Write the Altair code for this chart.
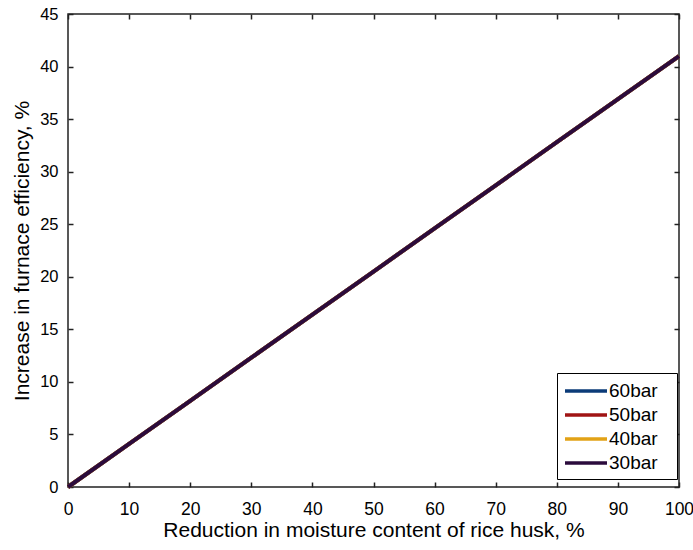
import altair as alt
import pandas as pd

# Data
reduction = [0, 10, 20, 30, 40, 50, 60, 70, 80, 90, 100]
eff_60bar = [0, 4.1, 8.2, 12.3, 16.4, 20.5, 24.6, 28.7, 32.8, 36.9, 41.0]
eff_50bar = [0, 4.1, 8.2, 12.3, 16.4, 20.5, 24.6, 28.7, 32.8, 36.9, 41.0]
eff_40bar = [0, 4.1, 8.2, 12.3, 16.4, 20.5, 24.6, 28.7, 32.8, 36.9, 41.0]
eff_30bar = [0, 4.1, 8.2, 12.3, 16.4, 20.5, 24.6, 28.7, 32.8, 36.9, 41.0]
series = ["60bar", "50bar", "40bar", "30bar"]
colors = ["#0b3b78", "#a01414", "#e2a216", "#2b0b3c"]
x_ticks = list(range(0, 101, 10))
y_ticks = list(range(0, 46, 5))

rows = []
for k, (name, vals) in enumerate(zip(series, [eff_60bar, eff_50bar, eff_40bar, eff_30bar])):
    for x, y in zip(reduction, vals):
        rows.append({"x": x, "y": y, "series": name, "k": k})
df = pd.DataFrame(rows)

FONT = "Liberation Sans"
xs = alt.Scale(domain=[0, 100], nice=False, zero=False)
ys = alt.Scale(domain=[0, 45], nice=False, zero=False)

main = alt.Chart(df).mark_line(strokeWidth=4).encode(
    x=alt.X("x:Q", scale=xs, title="Reduction in moisture content of rice husk, %",
            axis=alt.Axis(orient="bottom", values=x_ticks, tickSize=5, offset=-5,
                          domain=False, labelFlush=False, labelPadding=13, titlePadding=2,
                          labelFontSize=17.5, titleFontSize=21, format="d")),
    y=alt.Y("y:Q", scale=ys, title="Increase in furnace efficiency, %",
            axis=alt.Axis(orient="left", values=y_ticks, tickSize=5, offset=-5,
                          domain=False, labelFlush=False, labelPadding=10, titlePadding=7,
                          labelFontSize=16.5, titleFontSize=21, format="d")),
    color=alt.Color("series:N", scale=alt.Scale(domain=series, range=colors),
                    legend=alt.Legend(title=None, orient="none", legendX=489, legendY=359,
                                      symbolType="M-2.1,0H2.1M7.8,0h0", symbolSize=400,
                                      symbolStrokeWidth=3.5, symbolOffset=11,
                                      labelFontSize=19, labelOffset=11,
                                      labelFont=FONT, labelColor="black",
                                      strokeColor="black", fillColor="white",
                                      padding=6, rowPadding=2)),
    detail="k:N",
    order="k:Q",
)

frame = alt.Chart(df).mark_line(opacity=0).encode(
    x=alt.X("x:Q", scale=xs, title=None,
            axis=alt.Axis(orient="top", values=x_ticks, tickSize=5, offset=-5,
                          domain=False, labels=False)),
    y=alt.Y("y:Q", scale=ys, title=None,
            axis=alt.Axis(orient="right", values=y_ticks, tickSize=5, offset=-5,
                          domain=False, labels=False)),
)

chart = alt.layer(main, frame).resolve_axis(x="independent", y="independent").properties(
    width=611, height=473,
    autosize=alt.AutoSizeParams(type="none"),
    padding={"left": 68, "top": 14, "right": 14, "bottom": 63},
    background="white",
).configure_view(stroke="#222222", strokeWidth=1.5).configure_axis(
    labelFont=FONT, titleFont=FONT,
    labelColor="black", titleColor="black", tickColor="#222222", tickWidth=1.5,
    titleFontWeight="normal", grid=False,
)

chart.save("out.html", embed_options={"renderer": "svg", "actions": False})
